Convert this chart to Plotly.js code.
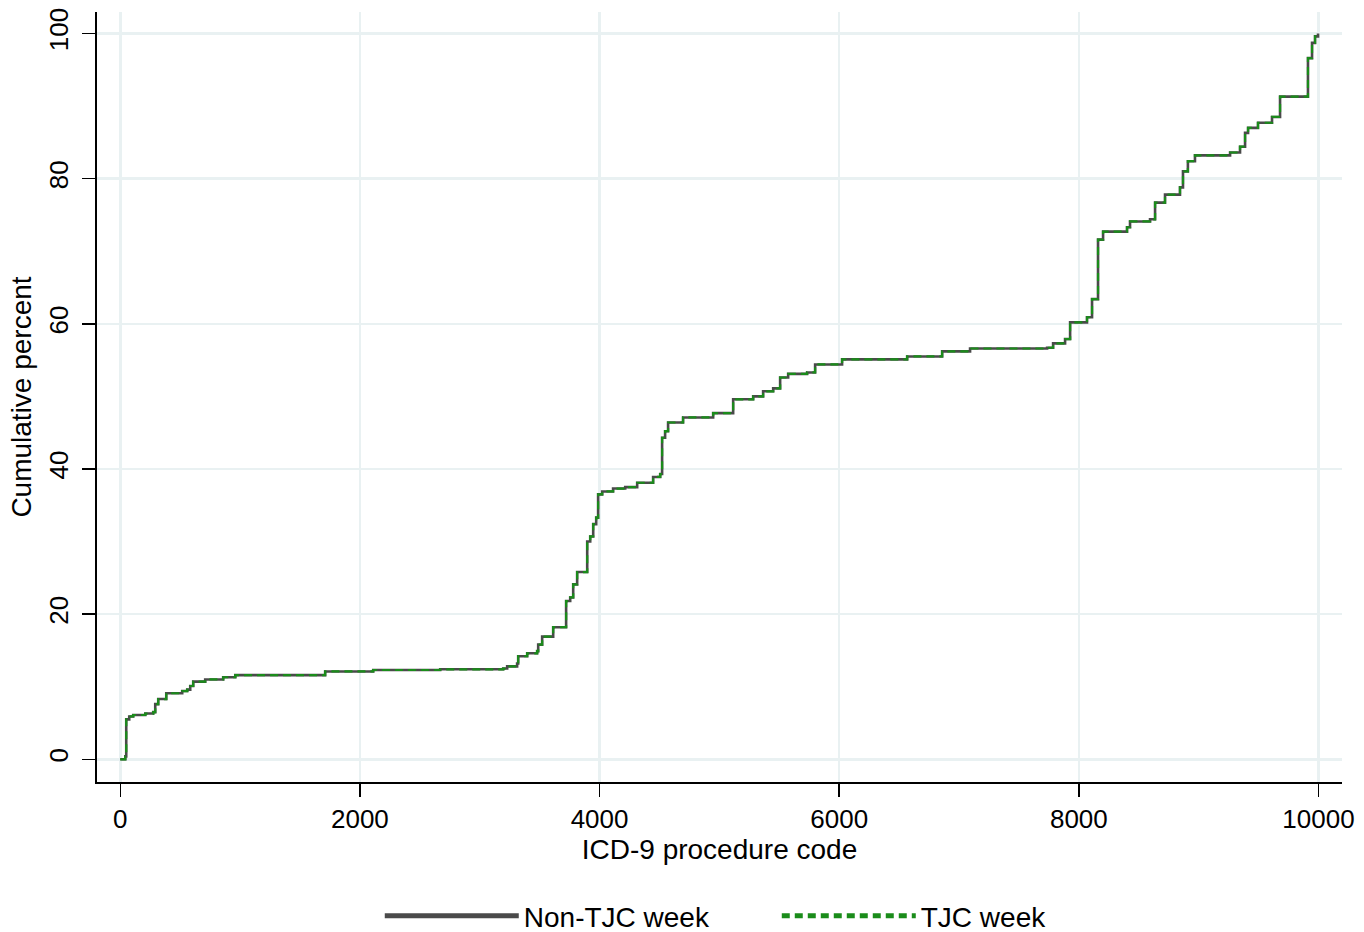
<!DOCTYPE html>
<html>
<head>
<meta charset="utf-8">
<script src="https://cdn.plot.ly/plotly-3.0.1.min.js"></script>
<style>
  html, body { margin: 0; padding: 0; background: #ffffff; }
  #chart { width: 1364px; height: 932px; }
</style>
</head>
<body>
<div id="chart"></div>
<script>
// ICD-9 procedure code (x) and cumulative percent (y)
const procedureCode = [
  0, 42, 50, 75, 108, 209, 275, 292, 317, 384, 517, 559, 584, 609, 709, 859, 960,
  1710, 2111, 2670, 3196, 3229, 3312, 3321, 3396, 3479, 3488, 3521, 3613, 3721,
  3755, 3780, 3813, 3897, 3922, 3947, 3972, 3988, 4022, 4113, 4214, 4314, 4447,
  4506, 4522, 4547, 4572, 4697, 4948, 5115, 5282, 5365, 5449, 5507, 5574, 5732,
  5799, 6024, 6567, 6859, 7092, 7735, 7785, 7885, 7927, 8068, 8110, 8160, 8202,
  8402, 8427, 8594, 8636, 8719, 8844, 8869, 8910, 8969, 9262, 9345, 9387, 9412,
  9495, 9612, 9679, 9912, 9946, 9971, 9996
];
const nonTjcPct = [
  0, 0.4, 5.5, 5.9, 6.1, 6.3, 6.5, 7.6, 8.3, 9.1, 9.4, 9.6, 10.1, 10.7, 11.0, 11.3, 11.6,
  12.1, 12.3, 12.4, 12.5, 12.8, 13.2, 14.2, 14.6, 14.9, 15.8, 16.9, 18.2, 21.8,
  22.3, 24.1, 25.8, 30.0, 30.7, 32.4, 33.3, 36.5, 36.9, 37.3, 37.5, 38.1, 38.9,
  39.3, 44.3, 45.2, 46.4, 47.1, 47.7, 49.6, 50.0, 50.7, 51.1, 52.6, 53.1, 53.3,
  54.4, 55.1, 55.5, 56.2, 56.6, 56.7, 57.3, 57.9, 60.2, 60.9, 63.4, 71.6, 72.7,
  73.3, 74.1, 74.4, 76.7, 77.8, 78.8, 81.0, 82.4, 83.2, 83.6, 84.4, 86.3, 87.0,
  87.7, 88.5, 91.3, 96.6, 98.7, 99.6, 100
];
const tjcPct = [
  0, 0.4, 5.5, 5.9, 6.1, 6.3, 6.5, 7.6, 8.3, 9.1, 9.4, 9.6, 10.1, 10.7, 11.0, 11.3, 11.6,
  12.1, 12.3, 12.4, 12.5, 12.8, 13.2, 14.2, 14.6, 14.9, 15.8, 16.9, 18.2, 21.8,
  22.3, 24.1, 25.8, 30.0, 30.7, 32.4, 33.3, 36.5, 36.9, 37.3, 37.5, 38.1, 38.9,
  39.3, 44.3, 45.2, 46.4, 47.1, 47.7, 49.6, 50.0, 50.7, 51.1, 52.6, 53.1, 53.3,
  54.4, 55.1, 55.5, 56.2, 56.6, 56.7, 57.3, 57.9, 60.2, 60.9, 63.4, 71.6, 72.7,
  73.3, 74.1, 74.4, 76.7, 77.8, 78.8, 81.0, 82.4, 83.2, 83.6, 84.4, 86.3, 87.0,
  87.7, 88.5, 91.3, 96.6, 98.7, 99.6, 100
];
const seriesNames = ['Non-TJC week', 'TJC week'];
const xTicks = [0, 2000, 4000, 6000, 8000, 10000];
const yTicks = [0, 20, 40, 60, 80, 100];

const FONT = 'Liberation Sans, Arial, Helvetica, sans-serif';
const GRID = '#e9f1f2';

const traces = [
  {
    x: procedureCode, y: nonTjcPct, name: seriesNames[0],
    type: 'scatter', mode: 'lines',
    line: { shape: 'hv', color: '#4a4a4a', width: 2.6 }
  },
  {
    x: procedureCode, y: tjcPct, name: seriesNames[1],
    type: 'scatter', mode: 'lines',
    line: { shape: 'hv', color: '#1a8c1a', width: 2.2, dash: '8px,5px' }
  }
];

const layout = {
  width: 1364, height: 932,
  paper_bgcolor: '#ffffff', plot_bgcolor: '#ffffff',
  margin: { l: 97, r: 22, t: 12, b: 150, autoexpand: false },
  font: { family: FONT, color: '#000000', size: 26 },
  showlegend: true,
  legend: {
    orientation: 'h', x: 0.546, xanchor: 'center',
    yref: 'container', y: 0.017, yanchor: 'middle',
    font: { family: FONT, size: 28, color: '#000000' },
    itemwidth: 134, itemsizing: 'constant', entrywidth: 248, tracegroupgap: 0
  },
  xaxis: {
    range: [-194, 10196],
    tickvals: xTicks, ticktext: xTicks.map(String),
    showgrid: true, gridcolor: GRID, gridwidth: 2.5,
    zeroline: false,
    showline: true, linecolor: '#000000', linewidth: 2,
    ticks: 'outside', ticklen: 13, tickwidth: 1.5, tickcolor: '#000000',
    tickfont: { family: FONT, size: 26, color: '#000000' },
    title: { text: 'ICD-9 procedure code', font: { family: FONT, size: 28, color: '#000000' }, standoff: 4 },
    automargin: false
  },
  yaxis: {
    range: [-3.13, 102.96],
    tickvals: yTicks, ticktext: yTicks.map(String),
    tickangle: -90,
    ticklabelstandoff: 4,
    showgrid: true, gridcolor: GRID, gridwidth: 2.5,
    zeroline: false,
    showline: true, linecolor: '#000000', linewidth: 2,
    ticks: 'outside', ticklen: 13, tickwidth: 1.5, tickcolor: '#000000',
    tickfont: { family: FONT, size: 26, color: '#000000' },
    title: { text: 'Cumulative percent', font: { family: FONT, size: 28, color: '#000000' }, standoff: 4 },
    automargin: false
  }
};

Plotly.newPlot('chart', traces, layout, { displayModeBar: false, staticPlot: true });
</script>
</body>
</html>
